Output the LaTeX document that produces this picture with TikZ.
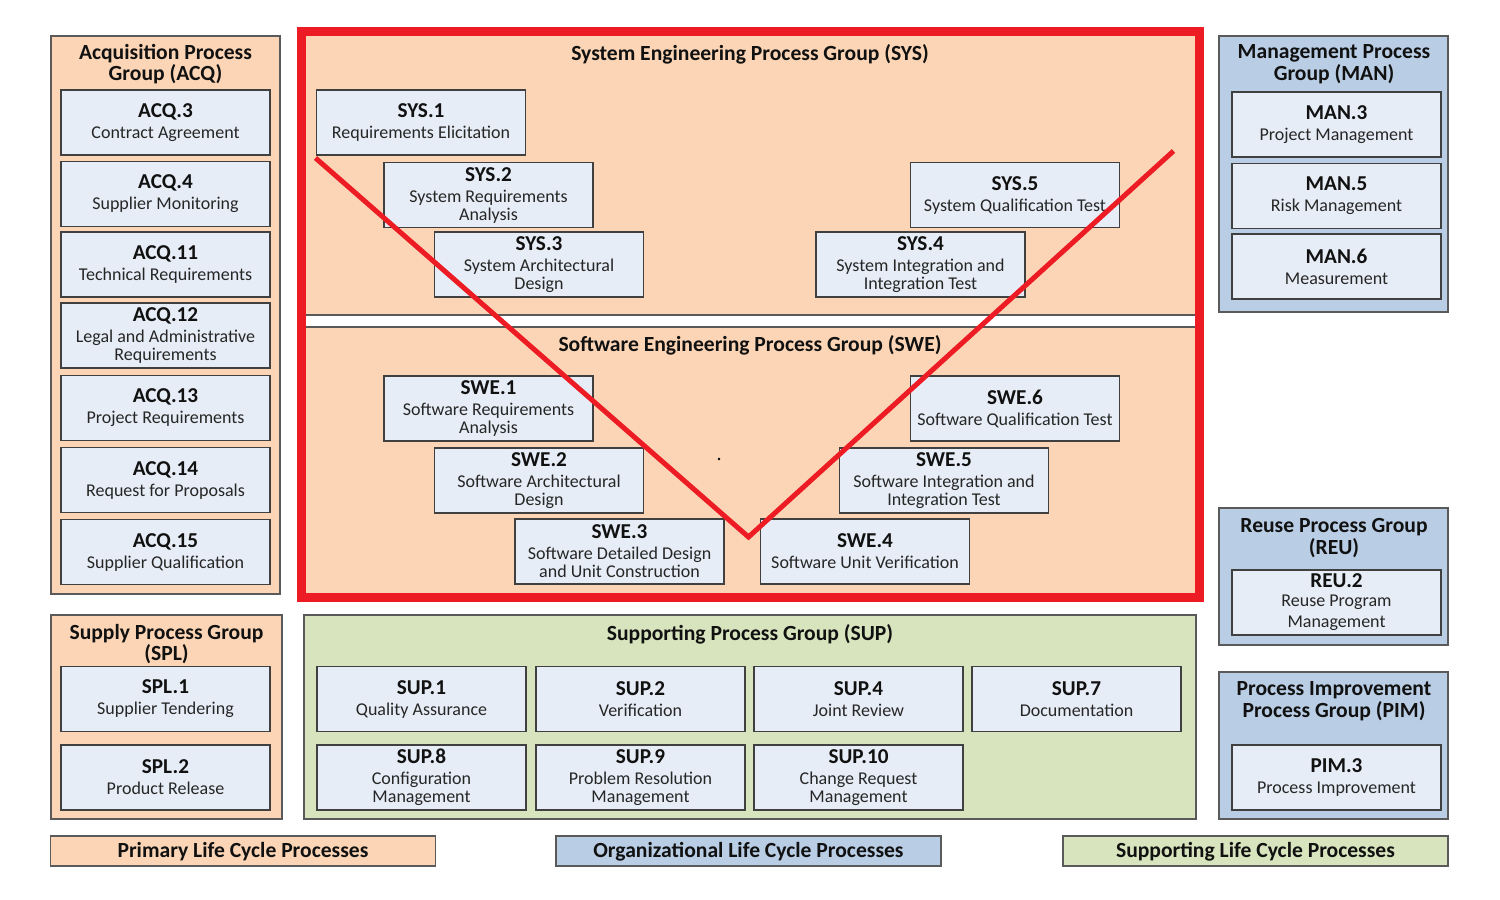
\documentclass[tikz,border=0pt]{standalone}
\usepackage{fontspec}
\setmainfont{Carlito}
\definecolor{peach}{HTML}{FBD5B5}
\definecolor{grpblue}{HTML}{B9CDE5}
\definecolor{boxfill}{HTML}{E7EDF6}
\definecolor{grpgreen}{HTML}{D7E4BD}
\definecolor{vred}{HTML}{ED1C24}
\definecolor{grpline}{HTML}{5A5A5A}
\definecolor{boxline}{HTML}{404040}
\definecolor{subtext}{HTML}{262626}
\definecolor{idtext}{HTML}{111111}
\newcommand\idf{\fontsize{21.2}{21}\selectfont\bfseries\color{idtext}}
\newcommand\subf{\fontsize{18}{18}\selectfont}
\newcommand\titlef{\fontsize{21.6}{21.5}\selectfont\bfseries}
\newcommand\bt[2]{{\idf #1}\\[3pt]#2}
\begin{document}
\begin{tikzpicture}[x=1pt,y=-1pt,
  grp/.style={draw=grpline, line width=1.3pt, rectangle, inner sep=0pt},
  pbx/.style={draw=boxline, fill=boxfill, line width=1.3pt, rectangle,
    minimum width=209pt, minimum height=65pt, inner sep=0pt, align=center,
    font=\subf, text=subtext},
  ttl/.style={font=\titlef, align=center, inner sep=0pt, text=idtext},
  leg/.style={draw=grpline, line width=1.3pt, rectangle, minimum width=385pt,
    minimum height=30pt, inner sep=0pt, font=\titlef, text=idtext,
    text height=15pt, text depth=2pt},
  vline/.style={draw=vred, line width=5pt, line join=miter},
  frame/.style={draw=vred, line width=9pt}]
\useasboundingbox[fill=white] (0,0) rectangle (1500,900);

% ---------- group containers ----------
\node[grp, fill=peach, minimum width=229pt, minimum height=558pt] (acq) at (165.5,315) {};
\node[grp, fill=peach, minimum width=231pt, minimum height=204pt] (spl) at (166.5,717) {};
\node[grp, fill=grpgreen, minimum width=892pt, minimum height=204pt] (sup) at (750,717) {};
\node[grp, fill=grpblue, minimum width=229pt, minimum height=276pt] (man) at (1333.5,174) {};
\node[grp, fill=grpblue, minimum width=229pt, minimum height=137pt] (reu) at (1333.5,576.5) {};
\node[grp, fill=grpblue, minimum width=229pt, minimum height=147pt] (pim) at (1333.5,745.5) {};
\node[grp, fill=peach, minimum width=898pt, minimum height=284pt] (sysg) at (750,173) {};
\node[grp, fill=peach, minimum width=898pt, minimum height=270pt] (sweg) at (750,462) {};

% ---------- group titles ----------
\node[ttl] (acqT) at (165.5,64) {Acquisition Process\\Group (ACQ)};
\node[ttl] (splT) at (166.5,644) {Supply Process Group\\(SPL)};
\node[ttl] (supT) at (750,634) {Supporting Process Group (SUP)};
\node[ttl] (manT) at (1334,64) {Management Process\\Group (MAN)};
\node[ttl] (reuT) at (1334,538) {Reuse Process Group\\(REU)};
\node[ttl] (pimT) at (1334,701) {Process Improvement\\Process Group (PIM)};
\node[ttl] (sysT) at (750,54) {System Engineering Process Group (SYS)};
\node[ttl] (sweT) at (750,345) {Software Engineering Process Group (SWE)};

% ---------- ACQ ----------
\node[pbx] (acq3)  at (165.5,122.5) {\bt{ACQ.3}{Contract Agreement}};
\node[pbx] (acq4)  at (165.5,194)   {\bt{ACQ.4}{Supplier Monitoring}};
\node[pbx] (acq11) at (165.5,264.5) {\bt{ACQ.11}{Technical Requirements}};
\node[pbx] (acq12) at (165.5,335.5) {\bt{ACQ.12}{Legal and Administrative\\Requirements}};
\node[pbx] (acq13) at (165.5,408)   {\bt{ACQ.13}{Project Requirements}};
\node[pbx] (acq14) at (165.5,480)   {\bt{ACQ.14}{Request for Proposals}};
\node[pbx] (acq15) at (165.5,552)   {\bt{ACQ.15}{Supplier Qualification}};

% ---------- MAN / REU / PIM ----------
\node[pbx] (man3) at (1336.5,124.5) {\bt{MAN.3}{Project Management}};
\node[pbx] (man5) at (1336.5,196)   {\bt{MAN.5}{Risk Management}};
\node[pbx] (man6) at (1336.5,266.5) {\bt{MAN.6}{Measurement}};
\node[pbx] (reu2) at (1336.5,602.5) {{\idf REU.2}\\[1pt]Reuse Program\\[3pt]Management};
\node[pbx] (pim3) at (1336.5,777.5) {\bt{PIM.3}{Process Improvement}};

% ---------- SPL ----------
\node[pbx] (spl1) at (165.5,699)   {\bt{SPL.1}{Supplier Tendering}};
\node[pbx] (spl2) at (165.5,777.5) {\bt{SPL.2}{Product Release}};

% ---------- SUP ----------
\node[pbx] (sup1)  at (421.5,699)   {\bt{SUP.1}{Quality Assurance}};
\node[pbx] (sup2)  at (640.5,699)   {\bt{SUP.2}{Verification}};
\node[pbx] (sup4)  at (858.5,699)   {\bt{SUP.4}{Joint Review}};
\node[pbx] (sup7)  at (1076.5,699)  {\bt{SUP.7}{Documentation}};
\node[pbx] (sup8)  at (421.5,777.5) {\bt{SUP.8}{Configuration\\Management}};
\node[pbx] (sup9)  at (640.5,777.5) {\bt{SUP.9}{Problem Resolution\\Management}};
\node[pbx] (sup10) at (858.5,777.5) {\bt{SUP.10}{Change Request\\Management}};

% ---------- SYS ----------
\node[pbx] (sys1) at (421,122.5)   {\bt{SYS.1}{Requirements Elicitation}};
\node[pbx] (sys2) at (488.5,195)   {\bt{SYS.2}{System Requirements\\Analysis}};
\node[pbx] (sys3) at (539,264.5)   {\bt{SYS.3}{System Architectural\\Design}};
\node[pbx] (sys5) at (1015,195)    {\bt{SYS.5}{System Qualification Test}};
\node[pbx] (sys4) at (920.5,264.5) {\bt{SYS.4}{System Integration and\\Integration Test}};

% ---------- SWE ----------
\node[pbx] (swe1) at (488.5,408.5) {\bt{SWE.1}{Software Requirements\\Analysis}};
\node[pbx] (swe2) at (539,480.5)   {\bt{SWE.2}{Software Architectural\\Design}};
\node[pbx] (swe3) at (619.5,551.5) {\bt{SWE.3}{Software Detailed Design\\and Unit Construction}};
\node[pbx] (swe6) at (1015,408.5)  {\bt{SWE.6}{Software Qualification Test}};
\node[pbx] (swe5) at (944,480.5)   {\bt{SWE.5}{Software Integration and\\Integration Test}};
\node[pbx] (swe4) at (865,551.5)   {\bt{SWE.4}{Software Unit Verification}};

% ---------- V line ----------
\coordinate (vL) at (315.5,158);
\coordinate (vB) at (748.5,537);
\coordinate (vR) at (1173.5,151);
\draw[vline] (vL) -- (vB) -- (vR);
\fill[black] (719,459) circle (1.4pt);

% ---------- red frame ----------
\node[frame, rectangle, inner sep=0pt, minimum width=898pt, minimum height=566pt] (redframe) at (750,314) {};

% ---------- legend ----------
\node[leg, fill=peach]    (legP) at (243,851)   {Primary Life Cycle Processes};
\node[leg, fill=grpblue]  (legO) at (748.5,851) {Organizational Life Cycle Processes};
\node[leg, fill=grpgreen] (legS) at (1255.5,851){Supporting Life Cycle Processes};
\end{tikzpicture}
\end{document}
